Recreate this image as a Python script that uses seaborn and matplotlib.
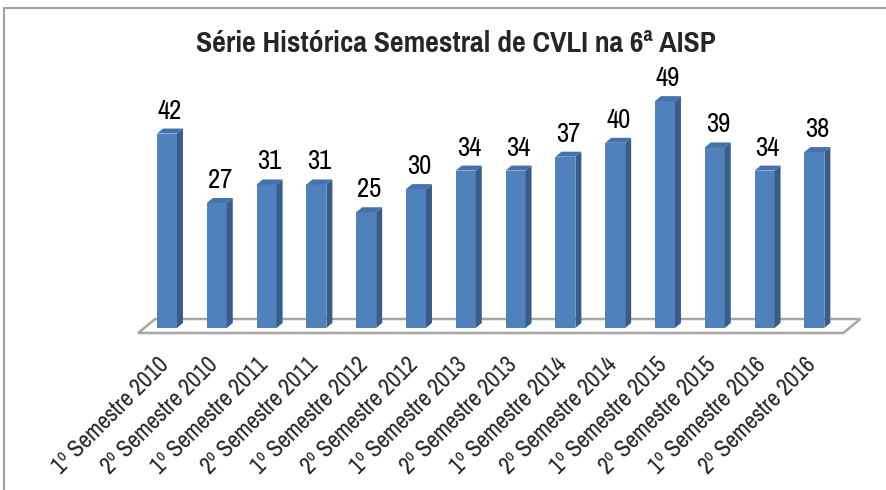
import matplotlib
matplotlib.use("Agg")
import matplotlib.pyplot as plt
import matplotlib.transforms as mtransforms
import seaborn as sns
import pandas as pd
from matplotlib.patches import Polygon
from matplotlib import font_manager

categories = ["1º Semestre 2010", "2º Semestre 2010", "1º Semestre 2011", "2º Semestre 2011",
              "1º Semestre 2012", "2º Semestre 2012", "1º Semestre 2013", "2º Semestre 2013",
              "1º Semestre 2014", "2º Semestre 2014", "1º Semestre 2015", "2º Semestre 2015",
              "1º Semestre 2016", "2º Semestre 2016"]
values = [42, 27, 31, 31, 25, 30, 34, 34, 37, 40, 49, 39, 34, 38]
title = "Série Histórica Semestral de CVLI na 6ª AISP"

sns.set_theme(style="white")
names = {f.name for f in font_manager.fontManager.ttflist}
narrow = next((n for n in ["Pragati Narrow", "Archivo Narrow", "Roboto Condensed", "PT Sans Narrow"]
               if n in names), "Liberation Sans")
plt.rcParams["font.family"] = [narrow, "DejaVu Sans"]

FRONT = "#4F81BD"
SIDE = "#385D8A"
TOP = "#4373AE"

fig = plt.figure(figsize=(8.86, 4.9), dpi=100)
W, H = 886, 490
ax_l, ax_r, ax_t, ax_b = 130, 860, 60, 340
ax = fig.add_axes([ax_l / W, (H - ax_b) / H, (ax_r - ax_l) / W, (ax_b - ax_t) / H])

df = pd.DataFrame({"cat": categories, "val": values})
sns.barplot(data=df, x="cat", y="val", color=FRONT, width=0.40, ax=ax,
            saturation=1, edgecolor="none", zorder=3)

px_per_x = 49.8
px_per_y = 4.63
x0 = (ax_l - 167) / px_per_x
ax.set_xlim(x0, x0 + (ax_r - ax_l) / px_per_x)
ax.set_ylim(-(ax_b - 328) / px_per_y, (328 - ax_t) / px_per_y)

ddx = 6 / px_per_x
ddy = 5 / px_per_y

for p in list(ax.patches):
    xl = p.get_x()
    w = p.get_width()
    h = p.get_height()
    xr = xl + w
    side = Polygon([(xr, 0), (xr + ddx, ddy), (xr + ddx, h + ddy), (xr, h)],
                   closed=True, facecolor=SIDE, edgecolor="none", zorder=3)
    top = Polygon([(xl, h), (xl + ddx, h + ddy), (xr + ddx, h + ddy), (xr, h)],
                  closed=True, facecolor=TOP, edgecolor="none", zorder=3)
    ax.add_patch(side)
    ax.add_patch(top)
    ax.text(xl + w / 2 + ddx / 2, h + ddy + 5 / px_per_y, f"{int(h)}",
            ha="center", va="bottom", fontsize=21, color="black", zorder=4)

n = len(values)
fdx = 17 / px_per_x
fdy = 14 / px_per_y
fy0 = -5 / px_per_y
fl, fr = -0.58, n - 1 + 0.58
floor = Polygon([(fl, fy0), (fr, fy0), (fr + fdx, fy0 + fdy), (fl + fdx, fy0 + fdy)],
                closed=True, facecolor="white", edgecolor="#A6A6A6", linewidth=1.8,
                zorder=2, clip_on=False)
ax.add_patch(floor)

for s in ax.spines.values():
    s.set_visible(False)
ax.set_yticks([])
ax.set_xlabel("")
ax.set_ylabel("")
ax.tick_params(axis="x", length=0, pad=15)
ax.set_xticks(range(n))
ax.set_xticklabels(categories, rotation=45, ha="right", va="center",
                   rotation_mode="anchor", fontsize=18.5)
shift = mtransforms.ScaledTranslation(-2 / 100, 0, fig.dpi_scale_trans)
for lab in ax.get_xticklabels():
    lab.set_transform(lab.get_transform() + shift)

fig.text(456 / W, 1 - 43 / H, title, ha="center", va="center",
         fontsize=23.3, fontweight="bold")

fig.add_artist(plt.Line2D([4 / W, 4 / W], [0, 1 - 8 / H], transform=fig.transFigure,
                          color="#A0A0A0", linewidth=1.5))
fig.add_artist(plt.Line2D([4 / W, 1], [1 - 8 / H, 1 - 8 / H], transform=fig.transFigure,
                          color="#A0A0A0", linewidth=1.5))

fig.savefig("out.png", dpi=100, facecolor="white")
